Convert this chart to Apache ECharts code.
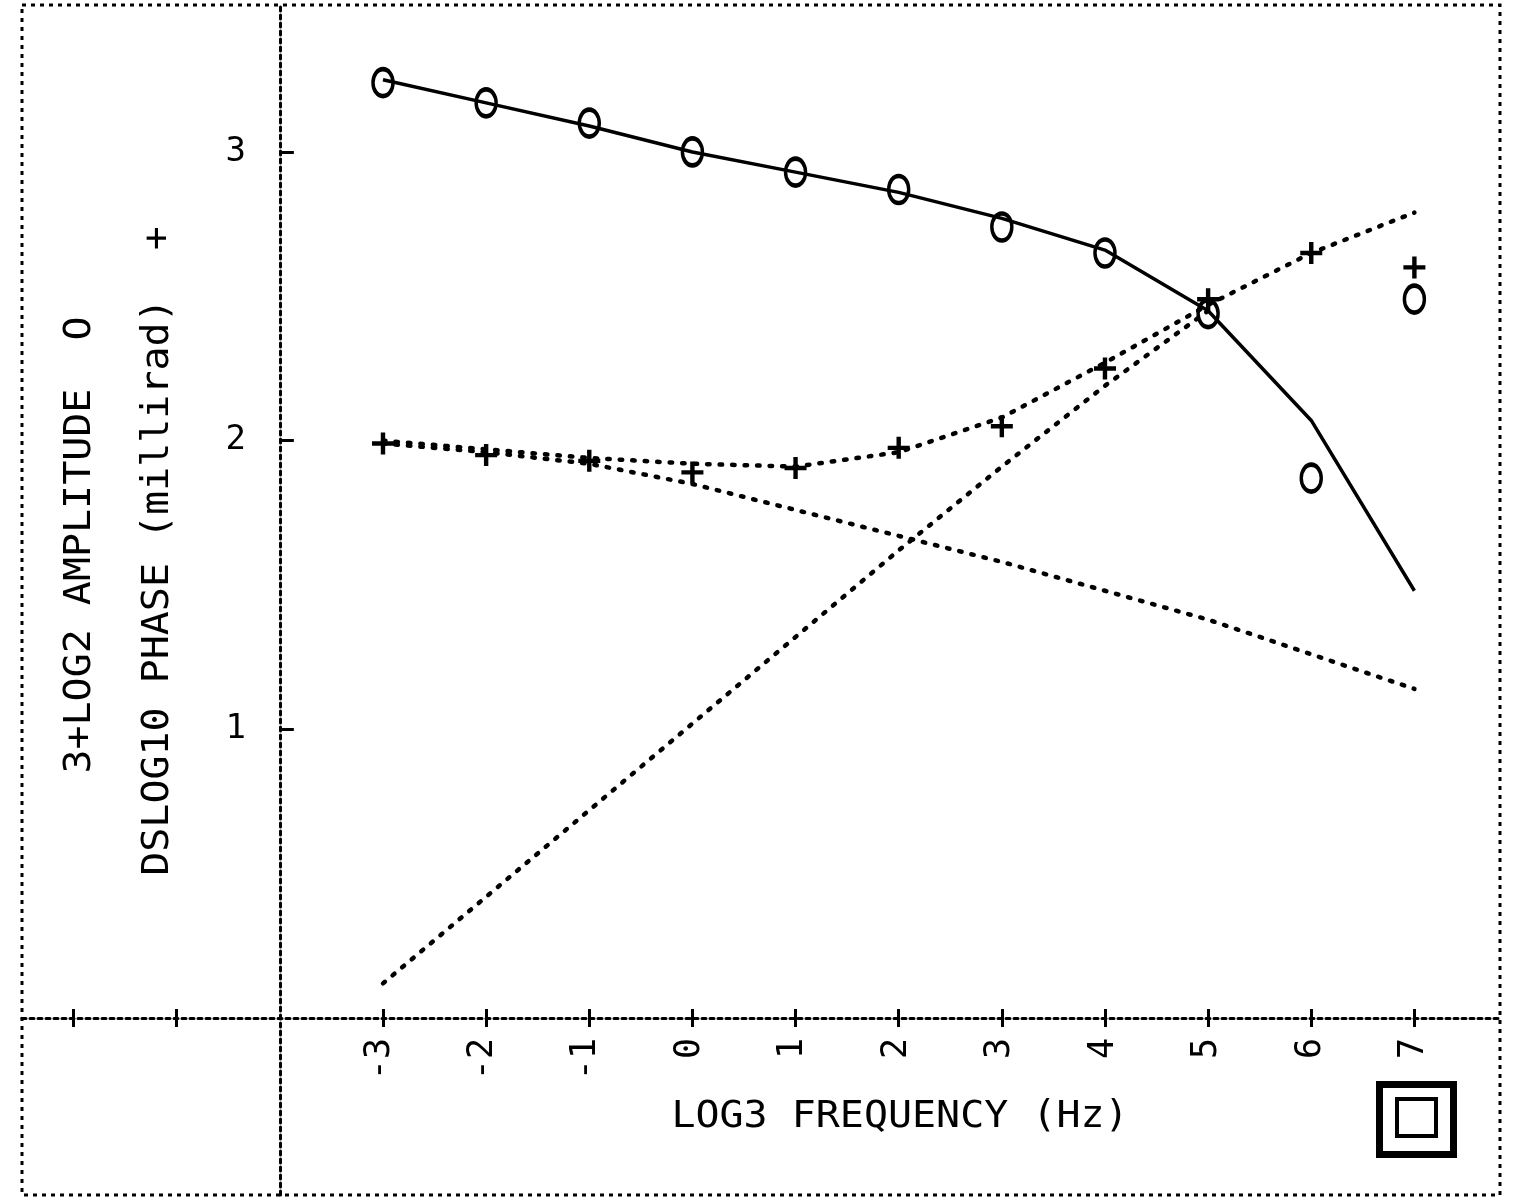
<!DOCTYPE html>
<html><head><meta charset="utf-8">
<script src="https://cdn.jsdelivr.net/npm/echarts@6/dist/echarts.min.js"></script>
<style>html,body{margin:0;padding:0;background:#fff}#c{width:1528px;height:1201px}</style>
</head><body><div id="c"></div>
<script>
// ---- data ----
const freq = [-3, -2, -1, 0, 1, 2, 3, 4, 5, 6, 7];
const ampObserved = [3.24, 3.17, 3.10, 3.00, 2.93, 2.87, 2.74, 2.65, 2.44, 1.87, 2.49];
const ampFit      = [3.25, 3.17, 3.09, 3.00, 2.93, 2.86, 2.77, 2.66, 2.45, 2.07, 1.48];
const phaseObserved = [1.99, 1.95, 1.93, 1.89, 1.905, 1.975, 2.05, 2.25, 2.49, 2.65, 2.60];
const phaseFit      = [2.00, 1.97, 1.94, 1.92, 1.91, 1.96, 2.08, 2.27, 2.47, 2.65, 2.79];
const phaseFall     = [1.99, 1.96, 1.92, 1.85, 1.76, 1.67, 1.58, 1.48, 1.38, 1.26, 1.14];
const riseFreq  = [-3, -2, -1, 0, 1, 2, 3, 4, 5];
const phaseRise = [0.12, 0.42, 0.72, 1.02, 1.32, 1.62, 1.91, 2.19, 2.45];
const xTickLabels = [-3, -2, -1, 0, 1, 2, 3, 4, 5, 6, 7];
const xTickMarks  = [-6, -5, -3, -2, -1, 0, 1, 2, 3, 4, 5, 6, 7];
const yTickLabels = [1, 2, 3];
const xTitle = 'LOG3 FREQUENCY (Hz)';
const ampTitle = '3+LOG2 AMPLITUDE  O';
const phaseTitle = 'DSLOG10 PHASE (millirad)  +';

const FONT = "'DejaVu Sans Mono', monospace";
const pairs = (xs, ys) => xs.map((x, i) => [x, ys[i]]);
const dotted = { color: '#000', width: 4.5, type: [2.5, 10], cap: 'round' };
const axisDots = { color: '#000', width: 3, type: [4, 4] };
const tickStyle = { color: '#000', width: 3 };
const PLUS = 'path://M8,0 H12 V8 H20 V12 H12 V20 H8 V12 H0 V8 H8 Z';

const chart = echarts.init(document.getElementById('c'), null, { renderer: 'canvas' });
chart.setOption({
  animation: false,
  backgroundColor: '#fff',
  grid: [
    { left: 22, right: 28, top: 5, bottom: 6, containLabel: false, outerBoundsMode: 'none' },
    { left: 276, right: 28, top: 5, bottom: 183, containLabel: false, outerBoundsMode: 'none' }
  ],
  xAxis: [
    { gridIndex: 0, type: 'value', min: -6.5, max: 7.83, position: 'bottom',
      axisLine: { show: true, onZero: true, onZeroAxisIndex: 0, lineStyle: axisDots },
      axisTick: { show: true, customValues: xTickMarks, length: 9, lineStyle: tickStyle },
      axisLabel: { show: false }, splitLine: { show: false } },
    { gridIndex: 0, type: 'value', min: -2.5, max: 11.83, position: 'top',
      axisLine: { show: true, onZero: true, onZeroAxisIndex: 0, lineStyle: { color: '#000', opacity: 0 } },
      axisTick: { show: true, customValues: xTickMarks.map(v => v + 4), length: 9, lineStyle: tickStyle },
      axisLabel: { show: false }, splitLine: { show: false } },
    { gridIndex: 1, type: 'value', min: -4, max: 7.83, position: 'bottom',
      axisLine: { show: false, onZero: false }, axisTick: { show: false },
      axisLabel: { show: true, customValues: xTickLabels, rotate: 90, margin: 20,
                   fontFamily: FONT, fontSize: 35, color: '#000' },
      splitLine: { show: false } }
  ],
  yAxis: [
    { gridIndex: 0, type: 'value', min: -0.613, max: 3.509,
      axisLine: { show: true, onZero: true, onZeroAxisIndex: 1, lineStyle: axisDots },
      axisTick: { show: true, inside: true, customValues: yTickLabels, length: 14, lineStyle: tickStyle },
      axisLabel: { show: false }, splitLine: { show: false } },
    { gridIndex: 1, type: 'value', min: 0, max: 3.509,
      axisLine: { show: false, onZero: false }, axisTick: { show: false },
      axisLabel: { show: true, customValues: yTickLabels, margin: 30, fontFamily: FONT, fontSize: 34, color: '#000' },
      splitLine: { show: false } }
  ],
  series: [
    { type: 'line', name: 'amp fit', xAxisIndex: 0, yAxisIndex: 0, data: pairs(freq, ampFit), symbol: 'none',
      lineStyle: { color: '#000', width: 3.5 } },
    { type: 'line', name: 'phase fit', xAxisIndex: 0, yAxisIndex: 0, data: pairs(freq, phaseFit), symbol: 'none', lineStyle: dotted },
    { type: 'line', name: 'phase fall', xAxisIndex: 0, yAxisIndex: 0, data: pairs(freq, phaseFall), symbol: 'none', lineStyle: dotted },
    { type: 'line', name: 'phase rise', xAxisIndex: 0, yAxisIndex: 0, data: pairs(riseFreq, phaseRise), symbol: 'none', lineStyle: dotted },
    { type: 'scatter', name: 'amplitude', xAxisIndex: 0, yAxisIndex: 0, data: pairs(freq, ampObserved),
      symbol: 'circle', symbolSize: [20, 27],
      itemStyle: { color: 'rgba(0,0,0,0)', borderColor: '#000', borderWidth: 4, opacity: 1 } },
    { type: 'scatter', name: 'phase', xAxisIndex: 0, yAxisIndex: 0, data: pairs(freq, phaseObserved),
      symbol: PLUS, symbolSize: 22, itemStyle: { color: '#000', opacity: 1 } }
  ],
  graphic: [
    { type: 'rect', shape: { x: 22, y: 5, width: 1478, height: 1190 },
      style: { fill: 'none', stroke: '#000', lineWidth: 3, lineDash: [4, 5] }, silent: true },
    { type: 'text', x: 900, y: 1117, scaleX: 1.08,
      style: { text: xTitle, fontFamily: FONT, fontSize: 37, fill: '#000', align: 'center', verticalAlign: 'middle' } },
    { type: 'text', x: 80, y: 545, rotation: Math.PI / 2, scaleX: 1.08,
      style: { text: ampTitle, fontFamily: FONT, fontSize: 37, fill: '#000', align: 'center', verticalAlign: 'middle' } },
    { type: 'text', x: 158, y: 551, rotation: Math.PI / 2, scaleX: 1.08,
      style: { text: phaseTitle, fontFamily: FONT, fontSize: 37, fill: '#000', align: 'center', verticalAlign: 'middle' } },
    { type: 'rect', shape: { x: 1379.5, y: 1084.5, width: 74, height: 70 },
      style: { fill: 'none', stroke: '#000', lineWidth: 7 } },
    { type: 'rect', shape: { x: 1397, y: 1099, width: 39, height: 37 },
      style: { fill: 'none', stroke: '#000', lineWidth: 4 } }
  ]
});
</script>
</body></html>
